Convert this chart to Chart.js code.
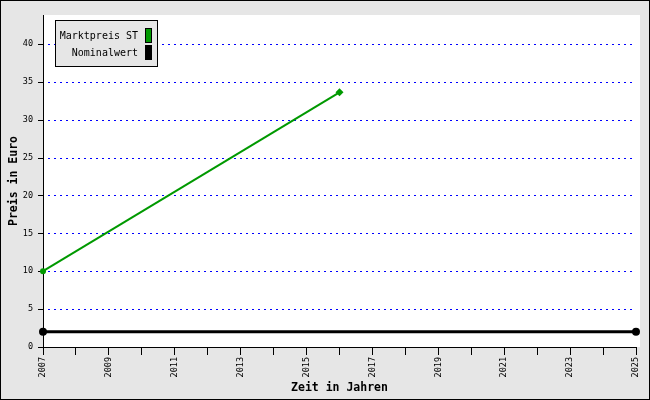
<!DOCTYPE html>
<html>
<head>
<meta charset="utf-8">
<script src="https://cdn.jsdelivr.net/npm/chart.js@4/dist/chart.umd.min.js"></script>
<style>
  html, body { margin: 0; padding: 0; background: #e6e6e6; }
  #wrap { width: 650px; height: 400px; }
</style>
</head>
<body>
<div id="wrap"><canvas id="chart" width="650" height="400"></canvas></div>
<script>
// data
const marktYears = [2007, 2016];
const marktPreis = [10, 33.6];
const nominalYears = [2007, 2025];
const nominalWert = [2, 2];

const yTicks = [0, 5, 10, 15, 20, 25, 30, 35, 40];
const xTicks = [2007, 2008, 2009, 2010, 2011, 2012, 2013, 2014, 2015, 2016,
                2017, 2018, 2019, 2020, 2021, 2022, 2023, 2024, 2025];
const xLabels = [2007, 2009, 2011, 2013, 2015, 2017, 2019, 2021, 2023, 2025];

const mono = '"DejaVu Sans Mono", "Liberation Mono", monospace';

const frame = {
    id: "frame",
    beforeDraw(chart) {
        const c = chart.ctx, a = chart.chartArea;
        c.save();
        c.fillStyle = "#e6e6e6";
        c.fillRect(0, 0, chart.width, chart.height);
        c.fillStyle = "#ffffff";
        c.fillRect(a.left, a.top, a.right - a.left + 4, a.bottom - a.top);
        c.restore();
    },
    beforeDatasetsDraw(chart) {
        // dotted blue grid lines, done as small rects
        const c = chart.ctx, a = chart.chartArea, ys = chart.scales.y;
        c.save();
        c.fillStyle = "#0000ff";
        yTicks.forEach(v => {
            if (v === 0) return;
            const py = Math.round(ys.getPixelForValue(v));
            for (let x = a.left + 5; x < a.right - 2; x += 6) c.fillRect(x, py, 2, 1);
        });
        c.fillStyle = "#000";
        yTicks.forEach(v => {
            const py = Math.round(ys.getPixelForValue(v));
            c.fillRect(a.left - 5, py, 5, 1);
        });
        c.restore();
    },
    afterDraw(chart) {
        const c = chart.ctx;
        c.save();
        c.setLineDash([]);
        c.strokeStyle = "#000";
        c.lineWidth = 1;
        c.strokeRect(0.5, 0.5, chart.width - 1, chart.height - 1);

        // legend box
        c.fillStyle = "#e6e6e6";
        c.fillRect(56, 21, 101, 45);
        c.strokeRect(55.5, 20.5, 102, 46);
        c.font = "10px " + mono;
        c.textAlign = "right";
        c.textBaseline = "middle";
        chart.data.datasets.forEach((ds, i) => {
            const y = 36 + i * 17;
            c.fillStyle = "#000";
            c.fillText(ds.label, 138, y);
            c.fillRect(145, y - 8, 7, 15);
            c.fillStyle = ds.borderColor;
            c.fillRect(146, y - 7, 5, 13);
        });
        c.restore();
    }
};

new Chart(document.getElementById("chart"), {
    type: "line",
    data: {
        datasets: [
            {
                label: "Marktpreis ST",
                data: marktYears.map((x, i) => ({ x: x, y: marktPreis[i] })),
                borderColor: "#009900",
                backgroundColor: "#009900",
                borderWidth: 2,
                pointStyle: ["circle", "rectRot"],
                pointRadius: [3, 4],
                pointBorderWidth: 0,
                clip: false,
                tension: 0
            },
            {
                label: "Nominalwert",
                data: nominalYears.map((x, i) => ({ x: x, y: nominalWert[i] })),
                borderColor: "#000000",
                backgroundColor: "#000000",
                borderWidth: 3,
                pointRadius: 4,
                pointBorderWidth: 0,
                clip: false,
                tension: 0
            }
        ]
    },
    options: {
        responsive: false,
        animation: false,
        layout: { padding: { top: 15, right: 14, left: 0, bottom: 0 } },
        plugins: {
            legend: { display: false },
            tooltip: { enabled: false }
        },
        scales: {
            x: {
                type: "linear",
                min: 2007,
                max: 2025,
                afterBuildTicks: s => { s.ticks = xTicks.map(v => ({ value: v })); },
                afterFit: s => { s.height = 53; },
                grid: { drawOnChartArea: false, tickLength: 8, color: "#000", tickColor: "#000" },
                border: { color: "#000", width: 1, z: 1 },
                ticks: {
                    autoSkip: false,
                    maxRotation: 90,
                    minRotation: 90,
                    padding: 2,
                    color: "#000",
                    font: { family: mono, size: 8.5 },
                    callback: v => xLabels.includes(v) ? String(v) : ""
                },
                title: {
                    display: true,
                    text: "Zeit in Jahren",
                    color: "#000",
                    padding: { top: 0, bottom: 5 },
                    font: { family: mono, size: 11.5, weight: "bold" }
                }
            },
            y: {
                min: 0,
                max: 43.8,
                afterBuildTicks: s => { s.ticks = yTicks.map(v => ({ value: v })); },
                afterFit: s => { s.width = 43; },
                grid: { display: false, tickLength: 5 },
                border: { display: true, color: "#000", width: 1 },
                ticks: {
                    padding: 5,
                    color: "#000",
                    font: { family: mono, size: 8.5 }
                },
                title: {
                    display: true,
                    text: "Preis in Euro",
                    color: "#000",
                    padding: { top: 7, bottom: 0 },
                    font: { family: mono, size: 11.5, weight: "bold" }
                }
            }
        }
    },
    plugins: [frame]
});
</script>
</body>
</html>
